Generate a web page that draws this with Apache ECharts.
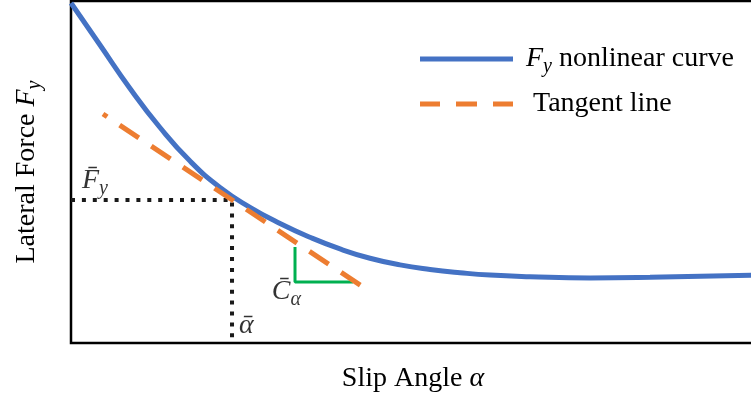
<!DOCTYPE html>
<html>
<head>
<meta charset="utf-8">
<script src="https://cdn.jsdelivr.net/npm/echarts@6/dist/echarts.min.js"></script>
<style>
  html, body { margin: 0; padding: 0; background: #fff; }
  #chart { width: 751px; height: 395px; }
</style>
</head>
<body>
<div id="chart"></div>
<script>
// Lateral force vs slip angle (normalised 0–100 units on both axes)
const curveX = [0, 4.24, 8.63, 13.01, 17.40, 21.78, 26.17, 30.56, 34.94, 39.33, 43.71, 48.10, 52.49, 56.87, 61.26, 67.11, 75.88, 84.65, 100];
const curveY = [99.42, 87.13, 74.42, 63.01, 53.19, 45.47, 39.68, 34.94, 30.91, 27.49, 24.77, 22.84, 21.52, 20.56, 19.85, 19.39, 19.04, 19.21, 19.82];

// Linearisation point (alpha-bar, Fy-bar)
const alphaBar = 23.54;
const fyBar = 41.81;

// Tangent line end points
const tangentX = [4.68, 42.69];
const tangentY = [66.96, 16.37];

// Slope marker (cornering stiffness C-alpha)
const slopeX = [32.75, 32.75, 41.23];
const slopeY = [28.07, 17.84, 17.84];

const serif = "'Liberation Serif', 'Times New Roman', serif";
const BLUE = '#4472c4';
const ORANGE = '#ed7d31';
const GREEN = '#00b050';

const mathRich = {
  t: { fontFamily: serif, fontSize: 28, color: '#000' },
  i: { fontFamily: serif, fontSize: 28, fontStyle: 'italic', color: '#000' },
  sub: { fontFamily: serif, fontSize: 20, fontStyle: 'italic', color: '#000', padding: [16, 0, 0, 0] }
};

const zip = (xs, ys) => xs.map((x, k) => [x, ys[k]]);

const chart = echarts.init(document.getElementById('chart'), null, { renderer: 'canvas' });

const legendText = {
  'Fy nonlinear curve': '{gap|}{i|F}{sub|y}{t| nonlinear curve}',
  'Tangent line': '{gap2|}{t|Tangent line}'
};

// legend keys: a solid bar and a three-dash bar
const solidKey = 'path://M0,0h93v5h-93z';
const dashKey = 'path://M0,0h20v5h-20z M36,0h21v5h-21z M73,0h20v5h-20z';

chart.setOption({
  animation: false,
  backgroundColor: '#fff',
  grid: {
    left: 71, right: -4, top: 1, bottom: 52,
    outerBoundsMode: 'none',
    containLabel: false,
    show: true, borderColor: '#000', borderWidth: 2.5, backgroundColor: 'transparent'
  },
  legend: {
    data: [
      { name: 'Fy nonlinear curve', icon: solidKey, itemStyle: { color: BLUE } },
      { name: 'Tangent line', icon: dashKey, itemStyle: { color: ORANGE } }
    ],
    orient: 'vertical',
    left: 415,
    top: 40,
    itemWidth: 93,
    itemHeight: 5,
    itemGap: 13,
    formatter: name => legendText[name],
    textStyle: {
      rich: Object.assign({
        gap: { width: 8 },
        gap2: { width: 15 }
      }, mathRich)
    }
  },
  xAxis: {
    type: 'value', min: 0, max: 100,
    name: '{t|Slip Angle }{i|α}',
    nameLocation: 'middle',
    nameGap: 22,
    nameTextStyle: { rich: mathRich },
    axisLine: { show: false }, axisTick: { show: false },
    axisLabel: { show: false }, splitLine: { show: false }
  },
  yAxis: {
    type: 'value', min: 0, max: 100,
    name: '{t|Lateral Force }{i|F}{sub|y}',
    nameLocation: 'middle',
    nameGap: 26,
    nameTextStyle: { rich: mathRich },
    axisLine: { show: false }, axisTick: { show: false },
    axisLabel: { show: false }, splitLine: { show: false }
  },
  series: [
    {
      name: 'Fy nonlinear curve',
      type: 'line',
      data: zip(curveX, curveY),
      smooth: 0.5,
      symbol: 'none',
      lineStyle: { color: BLUE, width: 5 },
      itemStyle: { color: BLUE },
      z: 3
    },
    {
      name: 'Tangent line',
      type: 'line',
      data: zip(tangentX, tangentY),
      symbol: 'none',
      lineStyle: { color: ORANGE, width: 5, type: [23, 15], dashOffset: 18, cap: 'butt' },
      itemStyle: { color: ORANGE },
      z: 4
    },
    {
      name: 'guides',
      type: 'line',
      data: [[0, fyBar], [alphaBar, fyBar], [alphaBar, 0]],
      symbol: 'none',
      lineStyle: { color: '#1a1a1a', width: 4, type: [4, 6.9], cap: 'butt' },
      z: 2
    },
    {
      name: 'slope',
      type: 'line',
      data: zip(slopeX, slopeY),
      symbol: 'none',
      lineStyle: { color: GREEN, width: 3 },
      z: 2
    },
    {
      name: 'labels',
      type: 'scatter',
      symbolSize: 0,
      silent: true,
      label: { show: true, rich: mathRich },
      data: [
        {
          value: [0, fyBar],
          label: { formatter: '{i|F\u0304}{sub|y}', position: [11, -1], align: 'left', verticalAlign: 'bottom' }
        },
        {
          value: [alphaBar, 0],
          label: { formatter: '{i|\u1FB1}', position: [7, -3], align: 'left', verticalAlign: 'bottom' }
        },
        {
          value: [slopeX[1], slopeY[1]],
          label: { formatter: '{i|C\u0304}{sub|α}', position: [6, -8], align: 'right', verticalAlign: 'top' }
        }
      ]
    }
  ]
});
</script>
</body>
</html>
